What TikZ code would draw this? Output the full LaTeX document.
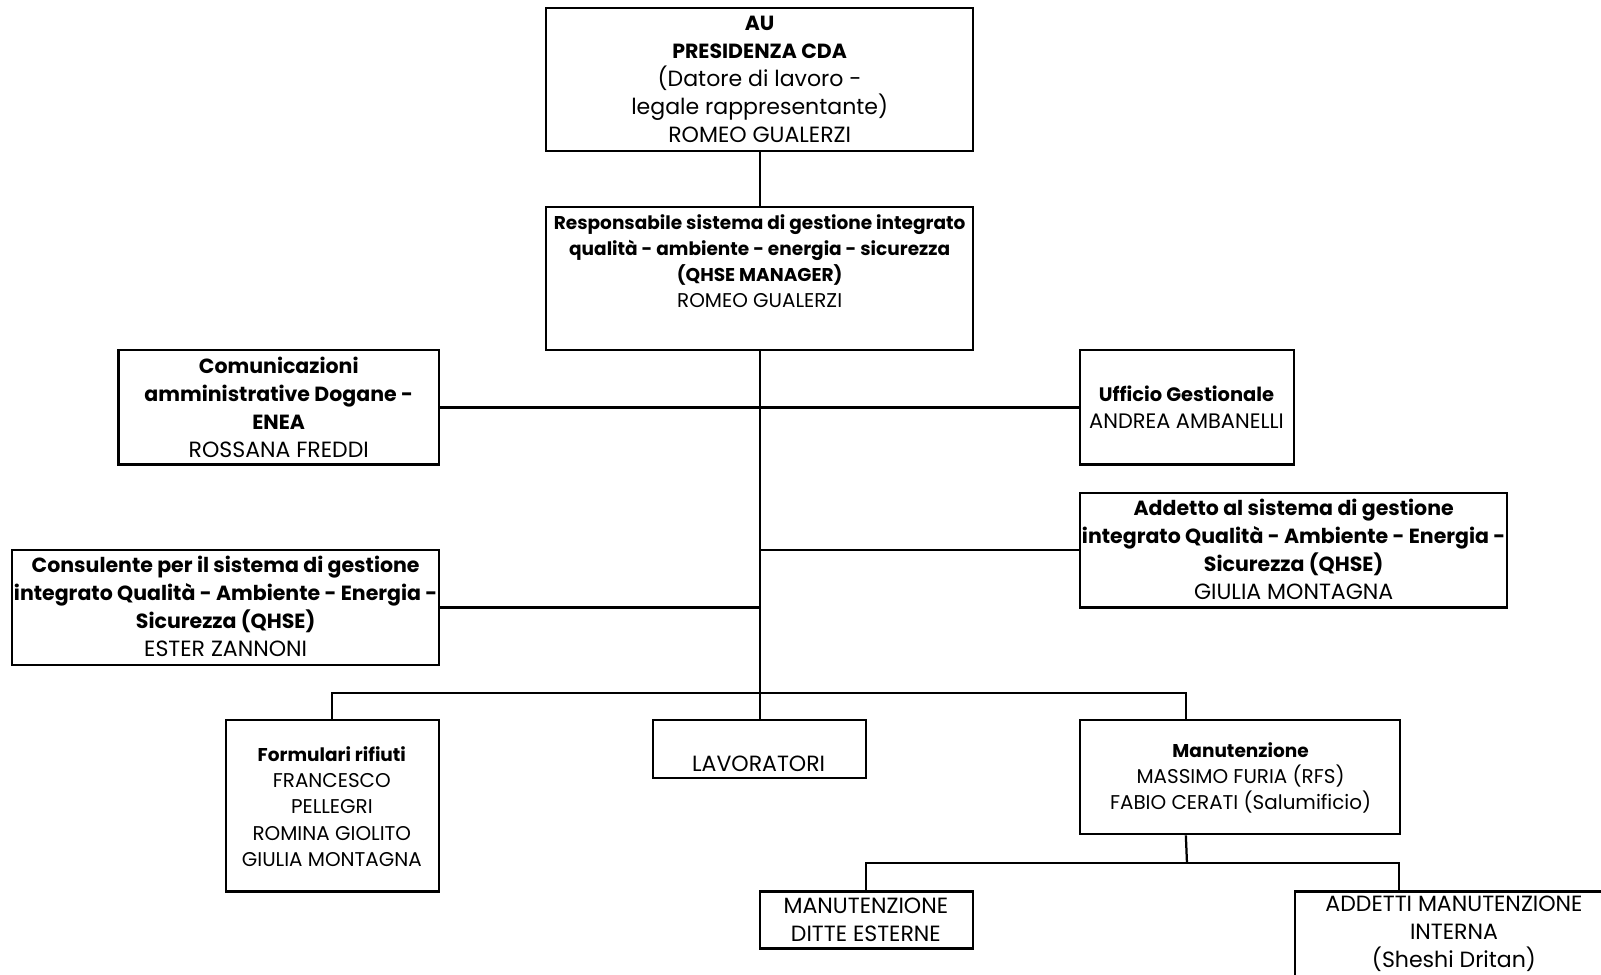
\documentclass[tikz,border=0pt]{standalone}
\usepackage{fontspec}
\setmainfont{Poppins}[BoldFeatures={Scale=0.93}]
\usetikzlibrary{calc}

\tikzset{
  box/.style={draw, line width=2.2pt, rectangle, inner sep=0pt},
  txt/.style={align=center, inner sep=0pt, font=\fontsize{21.6}{27.5}\selectfont},
  txtsmall/.style={txt, font=\fontsize{19.5}{25.5}\selectfont},
  txtmid/.style={txt, font=\fontsize{20.5}{26}\selectfont},
  link/.style={line width=2.2pt},
}

\begin{document}
\begin{tikzpicture}[x=1pt, y=-1pt]
            \useasboundingbox (0,0) rectangle (1568,954);
            \clip (0,0) rectangle (1568,954);
            % boxes
            \node[box, minimum width=418pt, minimum height=140pt] (au) at (744,78) {};
            \node[box, minimum width=418pt, minimum height=140pt] (qhse) at (744,273) {};
            \node[box, minimum width=314pt, minimum height=112pt] (com) at (273,399) {};
            \node[box, minimum width=209pt, minimum height=112pt] (uff) at (1162.5,399) {};
            \node[box, minimum width=418pt, minimum height=112pt] (add) at (1267,539) {};
            \node[box, minimum width=418pt, minimum height=112pt] (cons) at (221,595) {};
            \node[box, minimum width=209pt, minimum height=168pt] (form) at (325.5,789) {};
            \node[box, minimum width=209pt, minimum height=57pt] (lav) at (744,733.5) {};
            \node[box, minimum width=313pt, minimum height=112pt] (manut) at (1214.5,761) {};
            \node[box, minimum width=209pt, minimum height=56pt] (ditte) at (848.5,901) {};
            \node[box, minimum width=312pt, minimum height=112pt] (addetti) at (1424,929) {};
            % texts
            \node[txt] (autxt) at (744,77.5) {\textbf{AU}\\\textbf{PRESIDENZA CDA}\\(Datore di lavoro -\\legale rappresentante)\\ROMEO GUALERZI};
            \node[txtsmall] (qhsetxt) at (744,256) {\textbf{Responsabile sistema di gestione integrato}\\\textbf{qualità - ambiente - energia - sicurezza}\\\textbf{(QHSE MANAGER)}\\ROMEO GUALERZI};
            \node[txt] (comtxt) at (273,399) {\textbf{Comunicazioni}\\\textbf{amministrative Dogane -}\\\textbf{ENEA}\\ROSSANA FREDDI};
            \node[txtmid] (ufftxt) at (1162,399) {\textbf{Ufficio Gestionale}\\ANDREA AMBANELLI};
            \node[txt] (addtxt) at (1267,538) {\textbf{Addetto al sistema di gestione}\\\textbf{integrato Qualità - Ambiente - Energia -}\\\textbf{Sicurezza (QHSE)}\\GIULIA MONTAGNA};
            \node[txt] (constxt) at (221,594) {\textbf{Consulente per il sistema di gestione}\\\textbf{integrato Qualità - Ambiente - Energia -}\\\textbf{Sicurezza (QHSE)}\\ESTER ZANNONI};
            \node[txtsmall] (formtxt) at (325,790) {\textbf{Formulari rifiuti}\\FRANCESCO\\PELLEGRI\\ROMINA GIOLITO\\GIULIA MONTAGNA};
            \node[txt] (lavtxt) at (743,748) {LAVORATORI};
            \node[txtsmall] (manuttxt) at (1215,762) {\textbf{Manutenzione}\\MASSIMO FURIA (RFS)\\FABIO CERATI (Salumificio)};
            \node[txt] (dittetxt) at (848,901) {MANUTENZIONE\\DITTE ESTERNE};
            \node[txt] (addettitxt) at (1424,914.5) {ADDETTI MANUTENZIONE\\INTERNA\\(Sheshi Dritan)};
            % connectors
            \coordinate (bus1) at (744,679);
            \coordinate (bus2) at (1162.5,845);
            \draw[link] (au.south) -- (qhse.north);
            \draw[link] (qhse.south) -- (lav.north);
            \draw[link] (com.east) -- (uff.west);
            \draw[link] (cons.east) -- (cons.east -| qhse.south);
            \draw[link] (add.west) -- (add.west -| qhse.south);
            \draw[link] (form.north) |- (bus1) -| ($(manut.north west)+(104.5,0)$);
            \draw[link] ($(manut.south west)+(104.5,0)$) -- (bus2);
            \draw[link] (ditte.north) |- (bus2) -| ($(addetti.north west)+(103,0)$);
        \end{tikzpicture}
\end{document}
